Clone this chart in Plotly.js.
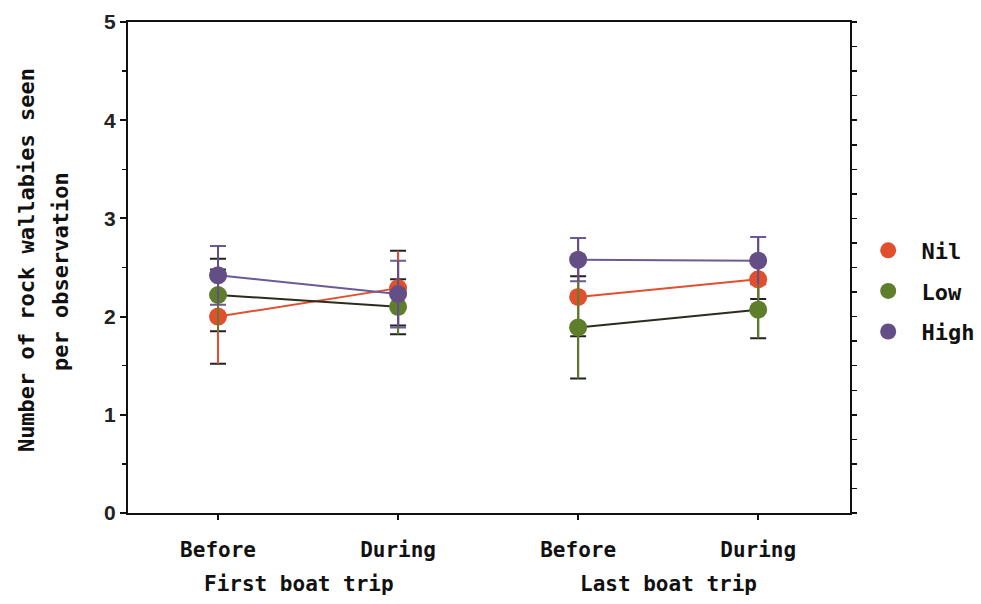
<!DOCTYPE html>
<html><head><meta charset="utf-8">
<script src="https://cdn.plot.ly/plotly-3.0.1.min.js"></script>
<style>html,body{margin:0;padding:0;background:#fff;}#chart{width:981px;height:604px;}</style>
</head><body><div id="chart"></div>
<script>
// ---- data ----
const xPositions = [1, 2, 3, 4];
const tickLabels = ['Before', 'During', 'Before', 'During'];
const groupLabels = ['First boat trip', 'Last boat trip'];
const groupCenters = [1.45, 3.5];
const yTitleLines = ['Number of rock wallabies seen', 'per observation'];
const seriesNames = ['Nil', 'Low', 'High'];
const nilMean = [2.00, 2.29, 2.20, 2.38];
const nilErr  = [0.48, 0.38, 0.40, 0.20];
const lowMean = [2.22, 2.10, 1.89, 2.07];
const lowErr  = [0.37, 0.28, 0.52, 0.29];
const highMean = [2.42, 2.23, 2.58, 2.57];
const highErr  = [0.30, 0.34, 0.22, 0.24];

const means = [nilMean, lowMean, highMean];
const errs = [nilErr, lowErr, highErr];
const markerColors = ['#e0502e', '#5e7e2c', '#634e85'];
const lineColors = ['#e0502e', '#2b2b1f', '#6a5a96'];
const capColors = ['#222222', '#222222', '#6a5a96'];
const font = 'DejaVu Sans Mono, monospace';

const traces = [];
// connecting lines within each group
seriesNames.forEach((name, s) => {
  for (let g = 0; g < 2; g++) {
    traces.push({
      x: xPositions.slice(2*g, 2*g+2), y: means[s].slice(2*g, 2*g+2),
      type: 'scatter', mode: 'lines', showlegend: false, hoverinfo: 'skip',
      line: {color: lineColors[s], width: 2}
    });
  }
});
// error bars with caps
seriesNames.forEach((name, s) => {
  traces.push({
    x: xPositions, y: means[s], type: 'scatter', mode: 'markers', showlegend: false,
    marker: {size: 1, color: 'rgba(0,0,0,0)'},
    error_y: {type: 'data', array: errs[s], visible: true, color: capColors[s], thickness: 2, width: 8}
  });
});
seriesNames.forEach((name, s) => {
  traces.push({
    x: xPositions, y: means[s], type: 'scatter', mode: 'markers', name: ' ' + name, legendgroup: name,
    marker: {size: 18, color: markerColors[s], symbol: 'circle', line: {width: 0}},
    error_y: {type: 'data', array: errs[s], visible: true, color: markerColors[s], thickness: 2, width: 0}
  });
});
// right-side axis ticks
traces.push({x: [xPositions[0]], y: [0], yaxis: 'y2', mode: 'markers', marker: {opacity: 0}, showlegend: false, hoverinfo: 'skip'});

const annotations = groupLabels.map((t, i) => ({
  text: t, x: groupCenters[i], y: 0, xref: 'x', yref: 'paper', yanchor: 'top', yshift: -57,
  showarrow: false, font: {family: font, size: 21, color: '#111', weight: 'bold'}
}));
const titlePos = [[-0.1413, 0.515], [-0.0928, 0.493]];
yTitleLines.forEach((t, i) => annotations.push({
  text: t, xref: 'paper', yref: 'paper', x: titlePos[i][0], y: titlePos[i][1], xanchor: 'center', yanchor: 'middle',
  textangle: -90, showarrow: false, font: {family: font, size: 22, color: '#111', weight: 'bold'}
}));

const layout = {
  width: 981, height: 604,
  margin: {l: 128, r: 131, t: 22, b: 91},
  paper_bgcolor: '#fff', plot_bgcolor: '#fff',
  showlegend: true,
  legend: {xref: 'container', yref: 'container', x: 0.885, y: 0.62, xanchor: 'left', yanchor: 'top',
    font: {family: font, size: 22, color: '#111', weight: 'bold'}, itemwidth: 30, tracegroupgap: 9,
    bgcolor: 'rgba(0,0,0,0)'},
  xaxis: {
    range: [0.5, 4.51], tickvals: xPositions, ticktext: tickLabels,
    showgrid: false, zeroline: false, showline: true, linecolor: '#111', linewidth: 2, mirror: true,
    ticks: 'outside', ticklen: 5, tickwidth: 2, tickcolor: '#111', ticklabelstandoff: 12,
    tickfont: {family: font, size: 21, color: '#111', weight: 'bold'}
  },
  yaxis: {
    range: [0, 5], dtick: 1, showgrid: false, zeroline: false, showline: true, linecolor: '#111', linewidth: 2,
    ticks: 'outside', ticklen: 6, tickwidth: 2, tickcolor: '#111',
    minor: {dtick: 0.5, ticks: 'outside', ticklen: 4, tickwidth: 1.5, tickcolor: '#111'},
    tickfont: {family: 'Liberation Sans, Arial, sans-serif', size: 21, color: '#222', weight: 'bold'}
  },
  yaxis2: {
    range: [0, 5], overlaying: 'y', side: 'right', dtick: 0.25, showticklabels: false, showgrid: false, zeroline: false,
    showline: true, linecolor: '#111', linewidth: 2, ticks: 'outside', ticklen: 5, tickwidth: 1.5, tickcolor: '#111'
  },
  annotations: annotations
};
Plotly.newPlot('chart', traces, layout, {displayModeBar: false, staticPlot: true});
</script></body></html>
